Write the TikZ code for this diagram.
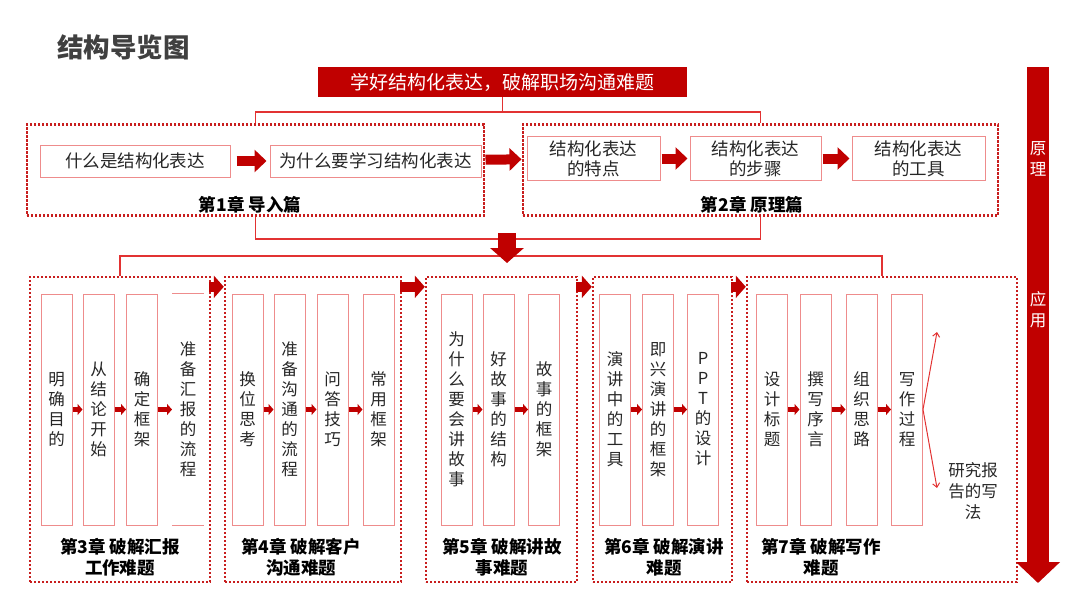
\documentclass[tikz,border=0pt]{standalone}
\usepackage{fontspec}
\setmainfont{Noto Sans CJK SC}
\usepackage{xcolor}
\usepackage{tikz}
\usetikzlibrary{shapes,arrows.meta,positioning,calc}

\definecolor{darkred}{RGB}{192,0,0}
\definecolor{linered}{RGB}{226,50,50}
\definecolor{boxred}{RGB}{238,140,140}
\definecolor{dotred}{RGB}{200,30,30}
\definecolor{titlegray}{RGB}{64,64,64}
\definecolor{textdark}{RGB}{38,38,38}

\tikzset{
  chapter/.style={draw=dotred, line width=2.4pt, dash pattern=on 2.2pt off 1.8pt, inner sep=0pt},
  topbox/.style={draw=boxred, line width=1pt, inner sep=0pt, text=textdark, font=\fontsize{17.5}{20}\selectfont, align=center},
  subbox/.style={draw=boxred, line width=1pt, inner sep=0pt, minimum width=31pt, minimum height=231pt, text=textdark, font=\fontsize{16.5}{20}\selectfont, align=center},
  chlabel/.style={font=\bfseries\fontsize{17.5}{21}\selectfont, align=center},
  bigarrow/.style={darkred, line width=10pt, -{Triangle[length=12pt,width=22pt]}},
  chaparrow/.style={darkred, line width=10pt, -{Triangle[length=10pt,width=22pt]}},
  smallarrow/.style={darkred, line width=5pt, -{Triangle[length=5pt,width=11pt]}},
  thinarrow/.style={linered, line width=1pt, -{Straight Barb[length=4pt,width=7pt]}},
  conn/.style={linered, line width=1.5pt},
}

\begin{document}
\begin{tikzpicture}[x=1pt,y=-1pt]
\useasboundingbox (0,0) rectangle (1080,608);

% Title and banner
\node[anchor=west, inner sep=0pt, text=titlegray, font=\bfseries\fontsize{26.5}{29}\selectfont] (title) at (57,47) {结构导览图};
\node[fill=darkred, minimum width=369pt, minimum height=30pt, inner sep=0pt, text=white, font=\fontsize{19}{22}\selectfont] (banner) at (502.5,82) {学好结构化表达，破解职场沟通难题};

% Chapter frames
\node[chapter, minimum width=457pt, minimum height=91pt] (ch1) at (255.5,170) {};
\node[chapter, minimum width=475pt, minimum height=91pt] (ch2) at (760.5,170) {};
\node[chapter, minimum width=180pt, minimum height=305pt] (ch3) at (120,429.5) {};
\node[chapter, minimum width=176pt, minimum height=305pt] (ch4) at (313,429.5) {};
\node[chapter, minimum width=151pt, minimum height=305pt] (ch5) at (501.5,429.5) {};
\node[chapter, minimum width=139pt, minimum height=305pt] (ch6) at (662.5,429.5) {};
\node[chapter, minimum width=270pt, minimum height=305pt] (ch7) at (882,429.5) {};

% Connectors
\draw[conn] (banner.south) -- ++(0,15) coordinate (split);
\draw[conn] (ch1.north) |- (split) -| (ch2.north);
\coordinate (merge) at (507,239);
\coordinate (fan) at (507,256);
\draw[conn] (ch1.south) |- (merge) -| (ch2.south);
\draw[conn] (ch3.north) |- (fan) -| (ch7.north);
\draw[darkred, line width=18pt, -{Triangle[length=15pt,width=33pt]}] ([yshift=6pt]merge) -- ([yshift=-7pt]fan);

% Chapter 1
\node[topbox, minimum width=190pt, minimum height=32pt] (c1a) at (135,161) {什么是结构化表达};
\node[topbox, minimum width=211pt, minimum height=32pt] (c1b) at (375.5,161) {为什么要学习结构化表达};
\node[chlabel] (l1) at (250,205) {第1章 导入篇};

% Chapter 2
\node[topbox, minimum width=133pt, minimum height=44pt] (c2a) at (593.5,158.5) {结构化表达\\的特点};
\node[topbox, minimum width=131pt, minimum height=44pt] (c2b) at (755.5,158.5) {结构化表达\\的步骤};
\node[topbox, minimum width=133pt, minimum height=44pt] (c2c) at (918.5,158.5) {结构化表达\\的工具};
\node[chlabel] (l2) at (752,205) {第2章 原理篇};

\draw[bigarrow, shorten <=6pt, shorten >=3pt] (c1a) -- (c1b);
\draw[bigarrow, shorten <=4pt, shorten >=5pt] (c1b) -- (c2a);
\draw[bigarrow, shorten <=1pt, shorten >=2pt] (c2a) -- (c2b);
\draw[bigarrow, shorten <=1pt, shorten >=2pt] (c2b) -- (c2c);

% Chapter 3
\node[subbox] (c3a) at (56.5,409.5) {明\\确\\目\\的};
\node[subbox] (c3b) at (98.5,409.5) {从\\结\\论\\开\\始};
\node[subbox] (c3c) at (142,409.5) {确\\定\\框\\架};
\node[subbox, draw=none] (c3d) at (188,409.5) {准\\备\\汇\\报\\的\\流\\程};
\draw[boxred, line width=1pt] (c3d.north west) -- (c3d.north east);
\draw[boxred, line width=1pt] (c3d.south west) -- (c3d.south east);
\node[chlabel] (l3) at (120,557.5) {第3章 破解汇报\\工作难题};

% Chapter 4
\node[subbox] (c4a) at (247.5,409.5) {换\\位\\思\\考};
\node[subbox] (c4b) at (289.5,409.5) {准\\备\\沟\\通\\的\\流\\程};
\node[subbox] (c4c) at (332.5,409.5) {问\\答\\技\\巧};
\node[subbox] (c4d) at (378.5,409.5) {常\\用\\框\\架};
\node[chlabel] (l4) at (301,557.5) {第4章 破解客户\\沟通难题};

% Chapter 5
\node[subbox] (c5a) at (456.5,409.5) {为\\什\\么\\要\\会\\讲\\故\\事};
\node[subbox] (c5b) at (498.5,409.5) {好\\故\\事\\的\\结\\构};
\node[subbox] (c5c) at (544,409.5) {故\\事\\的\\框\\架};
\node[chlabel] (l5) at (502,557.5) {第5章 破解讲故\\事难题};

% Chapter 6
\node[subbox] (c6a) at (615,409.5) {演\\讲\\中\\的\\工\\具};
\node[subbox] (c6b) at (658,409.5) {即\\兴\\演\\讲\\的\\框\\架};
\node[subbox] (c6c) at (703,409.5) {P\\P\\T\\的\\设\\计};
\node[chlabel] (l6) at (664,557.5) {第6章 破解演讲\\难题};

% Chapter 7
\node[subbox] (c7a) at (772,409.5) {设\\计\\标\\题};
\node[subbox] (c7b) at (815.5,409.5) {撰\\写\\序\\言};
\node[subbox] (c7c) at (861.5,409.5) {组\\织\\思\\路};
\node[subbox] (c7d) at (907,409.5) {写\\作\\过\\程};
\node[chlabel] (l7) at (821,557.5) {第7章 破解写作\\难题};
\node[text=textdark, align=center, font=\fontsize{16.5}{21}\selectfont] (report) at (973,491) {研究报\\告的写\\法};
\coordinate (upend) at (937,332);
\coordinate (downend) at (937,488);
\draw[thinarrow] (c7d.east) -- (upend);
\draw[thinarrow] (c7d.east) -- (downend);

% Small arrows inside chapters
\draw[smallarrow] (c3a) -- (c3b);
\draw[smallarrow] (c3b) -- (c3c);
\draw[smallarrow] (c3c) -- (c3d);
\draw[smallarrow] (c4a) -- (c4b);
\draw[smallarrow] (c4b) -- (c4c);
\draw[smallarrow] (c4c) -- (c4d);
\draw[smallarrow] (c5a) -- (c5b);
\draw[smallarrow] (c5b) -- (c5c);
\draw[smallarrow] (c6a) -- (c6b);
\draw[smallarrow] (c6b) -- (c6c);
\draw[smallarrow] (c7a) -- (c7b);
\draw[smallarrow] (c7b) -- (c7c);
\draw[smallarrow] (c7c) -- (c7d);

% Arrows between chapters
\draw[chaparrow, shorten <=-2pt] ([yshift=-11pt]ch3.north east) -- ([yshift=-11pt]ch4.north west);
\draw[chaparrow, shorten <=-2pt] ([yshift=-11pt]ch4.north east) -- ([yshift=-11pt]ch5.north west);
\draw[chaparrow, shorten <=-2pt] ([yshift=-11pt]ch5.north east) -- ([yshift=-11pt]ch6.north west);
\draw[chaparrow, shorten <=-2pt] ([yshift=-11pt]ch6.north east) -- ([yshift=-11pt]ch7.north west);

% Side bar
\coordinate (bartop) at (1038,67);
\coordinate (barend) at (1038,583);
\draw[darkred, line width=22pt, -{Triangle[length=21pt,width=43pt]}] (bartop) -- (barend);
\node[text=white, align=center, font=\fontsize{16.5}{21}\selectfont] (side1) at (1038,159) {原\\理};
\node[text=white, align=center, font=\fontsize{16.5}{21}\selectfont] (side2) at (1038,310) {应\\用};
\end{tikzpicture}
\end{document}
